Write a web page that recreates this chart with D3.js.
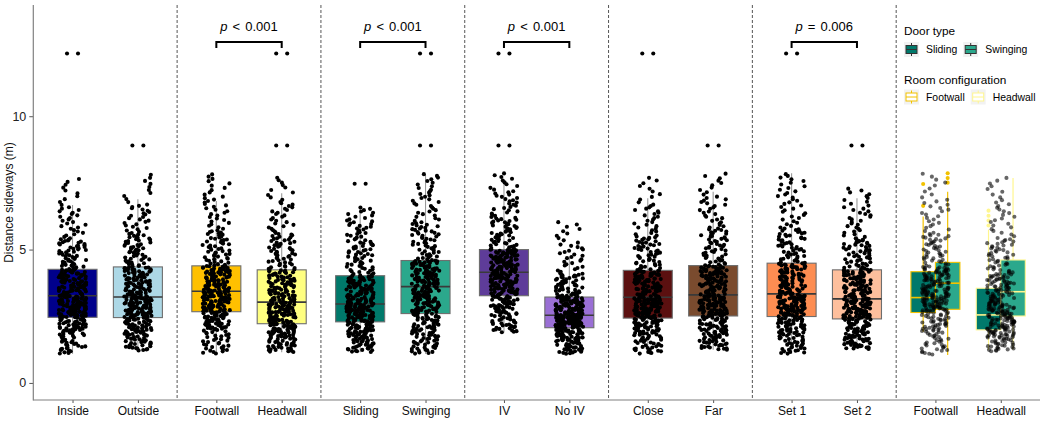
<!DOCTYPE html>
<html><head><meta charset="utf-8">
<script src="https://cdn.jsdelivr.net/npm/d3@7"></script>
<style>
body{margin:0;background:#fff}
svg{display:block}
text{font-family:"Liberation Sans",Arial,sans-serif}
</style>
</head><body>
<svg id="chart" width="1050" height="421"></svg>
<script>
// ---------------- DATA ----------------
const categories = ["Inside","Outside","Footwall","Headwall","Sliding","Swinging","IV","No IV","Close","Far","Set 1","Set 2","Footwall","Headwall"];
const boxFills = ["#00008B","#ADD8E6","#FFC000","#FFFF80","#00796B","#2BA88C","#5E3C99","#9A6FD5","#5B1010","#7A4B2E","#FD8D52","#FDBF9D"];
const q1 =          [2.46,2.45,2.67,2.22,2.29,2.60,3.27,2.07,2.43,2.51,2.49,2.40];
const medians =     [3.27,3.22,3.44,3.03,2.96,3.61,4.15,2.54,3.21,3.30,3.34,3.15];
const q3 =          [4.26,4.35,4.39,4.24,4.02,4.59,5.00,3.22,4.22,4.40,4.49,4.24];
const whiskerLow =  [1.09,1.21,1.09,1.15,1.15,1.09,1.89,1.09,1.09,1.24,1.09,1.27];
const whiskerHigh = [6.67,6.89,6.82,7.11,6.61,7.80,7.49,4.74,6.92,7.17,7.86,6.92];
// estimated spread of the jittered observations (quantiles at quantileProbs)
const quantileProbs = [0,0.1,0.25,0.5,0.75,0.9,0.97,1];
const dotQuantiles = [
  [1.09,1.85,2.46,3.27,4.26,5.40,6.60,7.70],
  [1.21,1.80,2.45,3.22,4.35,5.60,6.70,7.86],
  [1.09,2.00,2.67,3.44,4.39,5.70,7.00,7.86],
  [1.15,1.70,2.22,3.03,4.24,5.60,6.80,7.74],
  [1.15,1.70,2.29,2.96,4.02,5.30,6.10,6.60],
  [1.09,1.80,2.60,3.61,4.59,6.00,7.20,7.86],
  [1.89,2.60,3.27,4.15,5.00,6.20,7.20,7.89],
  [1.09,1.60,2.07,2.54,3.22,4.10,5.20,6.07],
  [1.09,1.80,2.43,3.21,4.22,5.50,6.70,7.74],
  [1.24,1.80,2.51,3.30,4.40,5.80,7.00,7.89],
  [1.09,1.80,2.49,3.34,4.49,5.80,7.20,7.86],
  [1.27,1.70,2.40,3.15,4.24,5.40,6.60,7.32]
];
const extremeValues = [[12.35,12.35],[8.9,8.9],[],[12.35,12.35,8.9,8.9],[7.47,7.47],[12.35,12.35,8.9,8.9],[12.35,12.35,8.9,8.9],[],[12.35,12.35],[8.9,8.9],[12.35,12.35],[8.9,8.9]];
const dotsPerGroup = 340;

// p-value brackets (panel index, label)
const bracketPanels = [1,2,3,5];
const bracketSigns = ["<","<","<","="];
const bracketValues = ["0.001","0.001","0.001","0.006"];
const bracketY = 12.78, bracketLegY = 12.56, bracketTextY = 13.2;

// last panel: door type x room configuration
const roomConfigs = ["Footwall","Headwall"];
const doorTypes = ["Sliding","Swinging"];
const doorFills = ["#00796B","#2BA88C"];
const roomColors = ["#F2C200","#FFF68F"];
const subQ1 =     [[2.64,2.76],[1.99,2.51]];
const subMedian = [[3.20,3.74],[2.55,3.42]];
const subQ3 =     [[4.17,4.52],[3.55,4.61]];
const subLow =    [[1.92,1.05],[1.24,1.26]];
const subHigh =   [[6.24,7.17],[5.75,7.68]];
const subOutliers = [[[6.64,7.46],[7.51,7.68,7.86]],[[5.90,6.09,6.27,6.46],[]]];
const roomDotQuantiles = [[1.05,1.90,2.70,3.45,4.35,5.60,6.90,7.90],[1.18,1.70,2.20,3.00,4.10,5.40,6.80,7.74]];
const roomDots = 300;

const yTicks = [0,5,10];

// ---------------- DRAWING ----------------
(function draw(){
const svg = d3.select("#chart");
const pL = 33.3, pR = 1040, pT = 5, pB = 400;
const nPanels = 7;
const panelX = d3.scaleBand().domain(d3.range(nPanels)).range([pL,pR]).padding(0);
const inner = d3.scaleLinear().domain([0,2.2]).range([0,panelX.bandwidth()]);
const unit = inner(1)-inner(0);
const catX = i => panelX(Math.floor(i/2)) + inner(0.6 + i%2);
const y = d3.scaleLinear().domain([-0.64,14.17]).range([pB,pT]);
const xAxisScale = d3.scaleOrdinal().domain(categories.map((c,i)=>String(i))).range(categories.map((c,i)=>catX(i)));

// deterministic horizontal jitter (hash), values from evenly spaced quantiles
function hash(n){ const s = Math.sin(n*12.9898+78.233)*43758.5453; return s-Math.floor(s); }
function spread(quant, n, seed){
  const qf = d3.scaleLinear().domain(quantileProbs).range(quant);
  return d3.range(n).map(i=>({v: qf((i+0.5)/n), j: hash(i*7.13+seed*911.7)-0.5}));
}

// dividers
svg.append("g").selectAll("line").data(d3.range(1,nPanels)).join("line")
  .attr("x1",d=>panelX(d)).attr("x2",d=>panelX(d))
  .attr("y1",pT).attr("y2",pB)
  .attr("stroke","#555").attr("stroke-width",1).attr("stroke-dasharray","3,2");

const jitterHalf = 0.21*unit;
const boxW = 0.75*unit;
const dotR = 2.05;

// standard boxes
const gBox = svg.append("g");
boxFills.forEach((fill,i)=>{
  const cx = catX(i);
  gBox.append("line").attr("x1",cx).attr("x2",cx).attr("y1",y(whiskerLow[i])).attr("y2",y(whiskerHigh[i]))
    .attr("stroke","#9a9a9a").attr("stroke-width",1.1);
  gBox.append("rect").attr("x",cx-boxW/2).attr("width",boxW)
    .attr("y",y(q3[i])).attr("height",y(q1[i])-y(q3[i]))
    .attr("fill",fill).attr("stroke","#6e6e6e").attr("stroke-width",1.1);
  gBox.append("line").attr("x1",cx-boxW/2).attr("x2",cx+boxW/2).attr("y1",y(medians[i])).attr("y2",y(medians[i]))
    .attr("stroke","#3a3a3a").attr("stroke-width",1.6);
});

// last panel boxes
const lastBase = 12;
const subW = boxW/2;
roomConfigs.forEach((rc,r)=>{
  const cx = catX(lastBase+r);
  doorTypes.forEach((dt,d)=>{
    const sx = cx + (d===0?-1:1)*subW/2;
    gBox.append("line").attr("x1",sx).attr("x2",sx).attr("y1",y(subLow[r][d])).attr("y2",y(subHigh[r][d]))
      .attr("stroke",roomColors[r]).attr("stroke-width",1.2);
    gBox.append("rect").attr("x",sx-subW/2).attr("width",subW)
      .attr("y",y(subQ3[r][d])).attr("height",y(subQ1[r][d])-y(subQ3[r][d]))
      .attr("fill",doorFills[d]).attr("stroke",roomColors[r]).attr("stroke-width",1.1);
    gBox.append("line").attr("x1",sx-subW/2).attr("x2",sx+subW/2).attr("y1",y(subMedian[r][d])).attr("y2",y(subMedian[r][d]))
      .attr("stroke",roomColors[r]).attr("stroke-width",1.6);
    gBox.append("g").selectAll("circle").data(subOutliers[r][d]).join("circle")
      .attr("cx",sx).attr("cy",v=>y(v)).attr("r",dotR).attr("fill",roomColors[r]);
  });
});

// jittered points
const gPts = svg.append("g");
dotQuantiles.forEach((qs,i)=>{
  const cx = catX(i);
  const pts = spread(qs,dotsPerGroup,i+1);
  extremeValues[i].forEach((v,k)=>pts.push({v, j:(k%2===0?-0.2:0.2)}));
  gPts.append("g").selectAll("circle").data(pts).join("circle")
    .attr("cx",p=>cx+p.j*2*jitterHalf).attr("cy",p=>y(p.v)).attr("r",dotR).attr("fill","#000");
});
roomDotQuantiles.forEach((qs,r)=>{
  const cx = catX(lastBase+r);
  const pts = spread(qs,roomDots,20+r);
  gPts.append("g").selectAll("circle").data(pts).join("circle")
    .attr("cx",p=>cx+p.j*2*jitterHalf).attr("cy",p=>y(p.v)).attr("r",dotR)
    .attr("fill","#000").attr("fill-opacity",0.6);
});

// brackets
const gBr = svg.append("g");
bracketPanels.forEach((p,k)=>{
  const xa = catX(2*p), xb = catX(2*p+1);
  gBr.append("path")
    .attr("d",`M${xa},${y(bracketLegY)}V${y(bracketY)}H${xb}V${y(bracketLegY)}`)
    .attr("fill","none").attr("stroke","#000").attr("stroke-width",2);
  const t = gBr.append("text").attr("x",(xa+xb)/2).attr("y",y(bracketTextY))
    .attr("text-anchor","middle").attr("font-size",13).attr("fill","#000").attr("word-spacing","1.5px");
  t.append("tspan").attr("font-style","italic").text("p");
  t.append("tspan").text(" "+bracketSigns[k]+" "+bracketValues[k]);
});

// axes
const yAxis = svg.append("g").attr("transform",`translate(${pL},0)`)
  .call(d3.axisLeft(y).tickValues(yTicks).tickSize(4).tickPadding(3));
yAxis.select(".domain").remove();
yAxis.selectAll(".tick line").attr("stroke","#555");
yAxis.selectAll(".tick text").attr("font-size",12.5).attr("fill","#222").style("font-family","Liberation Sans, Arial, sans-serif");

const xAxis = svg.append("g").attr("transform",`translate(0,${pB})`)
  .call(d3.axisBottom(xAxisScale).tickSize(3).tickPadding(3).tickFormat(i=>categories[+i]));
xAxis.select(".domain").remove();
xAxis.selectAll(".tick line").attr("stroke","#555");
xAxis.selectAll(".tick text").attr("font-size",12).attr("fill","#111").style("font-family","Liberation Sans, Arial, sans-serif");

svg.append("line").attr("x1",pL).attr("x2",pL).attr("y1",pT).attr("y2",pB+0.5)
  .attr("stroke","#808080").attr("stroke-width",1.2);
svg.append("line").attr("x1",pL).attr("x2",pR).attr("y1",pB).attr("y2",pB)
  .attr("stroke","#808080").attr("stroke-width",1.2);

svg.append("text").attr("transform",`translate(13,${(pT+pB)/2}) rotate(-90)`)
  .attr("text-anchor","middle").attr("font-size",12).attr("fill","#111").text("Distance sideways (m)");

// legend
const lg = svg.append("g").attr("transform","translate(904,0)");
function keyGlyph(g,x,yk,fill,stroke,whisk){
  g.append("rect").attr("x",x).attr("y",yk).attr("width",15).attr("height",15).attr("fill","#f2f2f2");
  g.append("line").attr("x1",x+7.5).attr("x2",x+7.5).attr("y1",yk+1).attr("y2",yk+14).attr("stroke",whisk).attr("stroke-width",1);
  g.append("rect").attr("x",x+2).attr("y",yk+3.5).attr("width",11).attr("height",8).attr("fill",fill).attr("stroke",stroke).attr("stroke-width",1);
  g.append("line").attr("x1",x+2).attr("x2",x+13).attr("y1",yk+7.5).attr("y2",yk+7.5).attr("stroke",stroke).attr("stroke-width",1);
}
function legendRow(title, labels, fills, strokes, whisks, titleY, keyY){
  lg.append("text").attr("x",0).attr("y",titleY).attr("font-size",11.8).attr("fill","#000").text(title);
  let x = 0;
  labels.forEach((lab,k)=>{
    keyGlyph(lg,x,keyY,fills[k],strokes[k],whisks[k]);
    const t = lg.append("text").attr("x",x+22).attr("y",keyY+11).attr("font-size",10.4).attr("fill","#000").text(lab);
    x = x+22+t.node().getComputedTextLength()+6;
  });
}
legendRow("Door type", doorTypes, doorFills, ["#333","#333"], ["#333","#333"], 35, 42);
legendRow("Room configuration", roomConfigs, ["#ffffff","#ffffff"], roomColors, roomColors, 84, 89.5);
})();
</script>
</body></html>
